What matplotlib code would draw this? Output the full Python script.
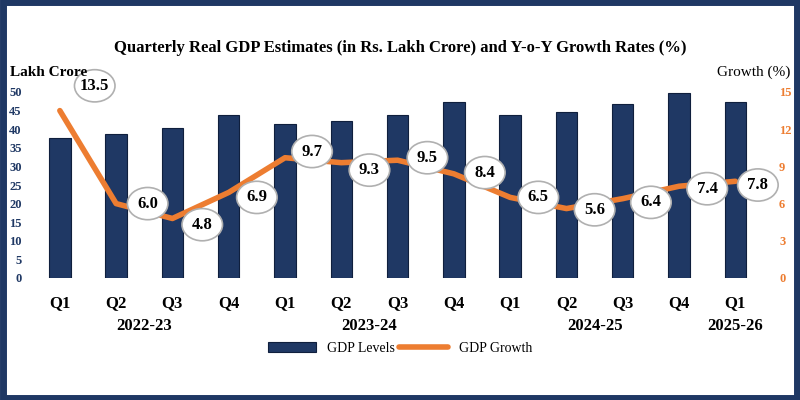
import numpy as np
import matplotlib
matplotlib.use('Agg')
import matplotlib.pyplot as plt
from matplotlib.patches import Ellipse

plt.rcParams['font.family'] = ['Liberation Serif', 'DejaVu Serif']

quarters = ['Q1', 'Q2', 'Q3', 'Q4', 'Q1', 'Q2', 'Q3', 'Q4', 'Q1', 'Q2', 'Q3', 'Q4', 'Q1']
years = ['2022-23', '2023-24', '2024-25', '2025-26']
gdp_levels = [37.6, 38.7, 40.3, 43.8, 41.4, 42.2, 43.8, 47.3, 43.8, 44.6, 46.8, 49.7, 47.3]
gdp_growth = [13.5, 6.0, 4.8, 6.9, 9.7, 9.3, 9.5, 8.4, 6.5, 5.6, 6.4, 7.4, 7.8]
#label offsets (x in category units, y in growth units)
lab_dx = [0.62, 0.56, 0.53, 0.5, 0.48, 0.5, 0.53, 0.55, 0.5, 0.5, 0.5, 0.5, 0.4]
lab_dy = [2.0, 0.0, -0.5, -0.4, 0.5, -0.6, 0.2, 0.1, 0.0, -0.1, -0.3, -0.2, -0.3]

navy = '#1f3864'
orange = '#ed7d31'

fig = plt.figure(figsize=(8, 4), dpi=100)
fig.patches.append(plt.Rectangle((0.004, 0.006), 0.992, 0.988, transform=fig.transFigure,
                                 fill=False, edgecolor=navy, linewidth=5))
ax = fig.add_axes([0.0375, 0.305, 0.919, 0.465])
x = np.arange(len(quarters))
ax.bar(x, gdp_levels, width=0.38, color=navy, edgecolor='#0f1f3d', linewidth=0.8, label='GDP Levels')
ax.set_ylim(0, 50)
ax.set_yticks(range(0, 51, 5))
ax.tick_params(axis='y', colors=navy, labelsize=9, length=0, pad=6)
for t in ax.get_yticklabels():
    t.set_fontweight('bold')
ax.set_xticks(x)
ax.set_xticklabels(quarters, fontsize=12, fontweight='bold')
ax.tick_params(axis='x', length=0, pad=12)
ax.set_xlim(-0.53, 12.53)
for s in ax.spines.values():
    s.set_visible(False)

ax2 = ax.twinx()
ax2.plot(x, gdp_growth, color=orange, linewidth=4, label='GDP Growth', solid_capstyle='round')
ax2.set_ylim(0, 15)
ax2.set_yticks(range(0, 16, 3))
ax2.tick_params(axis='y', colors=orange, labelsize=9, length=0, pad=10)
for t in ax2.get_yticklabels():
    t.set_fontweight('bold')
for s in ax2.spines.values():
    s.set_visible(False)

for i, v in enumerate(gdp_growth):
    cx, cy = x[i] + lab_dx[i], v + lab_dy[i]
    ax2.add_patch(Ellipse((cx, cy), 0.72, 2.6, facecolor='white', edgecolor='#b0b0b0',
                          linewidth=1.2, zorder=5, clip_on=False))
    ax2.text(cx, cy, f'{v:.1f}', ha='center', va='center', fontsize=12,
             fontweight='bold', zorder=6, clip_on=False)

year_pos = [1.5, 5.5, 9.5, 12]
for xp, yl in zip(year_pos, years):
    ax.text(xp, -12.9, yl, ha='center', va='center', fontsize=12, fontweight='bold')

fig.text(0.5, 0.88, 'Quarterly Real GDP Estimates (in Rs. Lakh Crore) and Y-o-Y Growth Rates (%)',
         ha='center', va='center', fontsize=12, fontweight='bold')
fig.text(0.012, 0.82, 'Lakh Crore', fontsize=11, fontweight='bold', va='center')
fig.text(0.988, 0.82, 'Growth (%)', fontsize=11, ha='right', va='center')

h1, l1 = ax.get_legend_handles_labels()
h2, l2 = ax2.get_legend_handles_labels()
fig.legend(h1 + h2, l1 + l2, loc='center', bbox_to_anchor=(0.5, 0.13), ncol=2,
           frameon=False, fontsize=10, handlelength=3.5, columnspacing=0.3)

fig.savefig('out.png', dpi=100)
